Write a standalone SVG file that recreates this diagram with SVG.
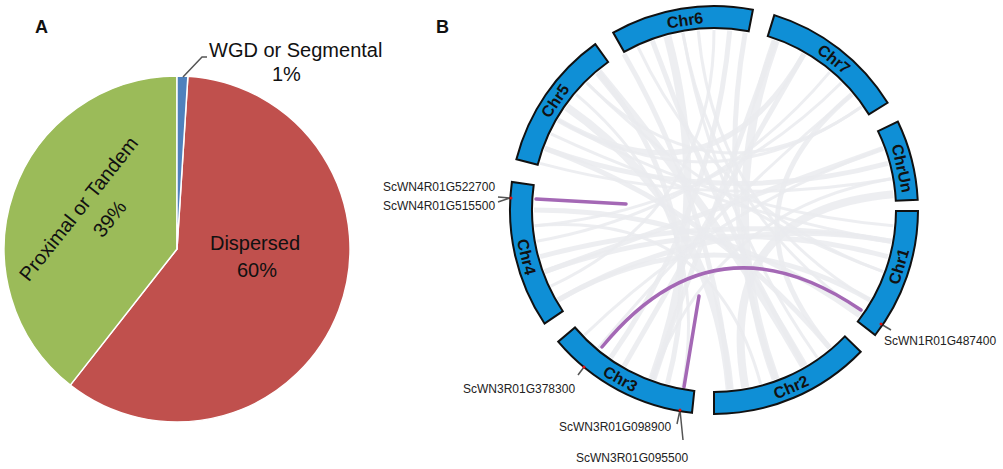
<svg xmlns="http://www.w3.org/2000/svg" width="1003" height="469" viewBox="0 0 1003 469">
<style>
.t{font-family:"Liberation Sans",Arial,sans-serif;fill:#111}
.pl{font-size:20px}
.hd{font-size:18px;font-weight:bold}
.chr{fill:#0f8fd6;stroke:#111;stroke-width:2;stroke-linejoin:miter}
.cl{font-family:"Liberation Sans",Arial,sans-serif;font-size:16px;font-weight:bold;fill:#111;text-anchor:middle}
.gl{font-family:"Liberation Sans",Arial,sans-serif;font-size:12px;fill:#222}
.gray{fill:none;stroke:#eaebef;stroke-opacity:0.85;stroke-linecap:butt}
.w1{stroke-width:3}.w2{stroke-width:5}.w3{stroke-width:8}
.pur{fill:none;stroke:#a468b5;stroke-width:3.5;stroke-linecap:round}
.ld{fill:none;stroke:#555;stroke-width:1.5}
.tick{fill:#e01010}
.slice{stroke:#fff;stroke-width:1.5;stroke-linejoin:round}
</style>
<rect width="1003" height="469" fill="#fff"/>

<g id="panelA">
  <text class="t hd" x="35" y="33">A</text>
  <g id="slice-dispersed"><path class="slice" fill="#c0504d" d="M177,249 L187.9,76.3 A173,173 0 1 1 70.3,385.1 Z"/></g>
  <g id="slice-proximal"><path class="slice" fill="#9bbb59" d="M177,249 L70.3,385.1 A173,173 0 0 1 177,76 Z"/></g>
  <g id="slice-wgd"><path class="slice" fill="#4f81bd" d="M177,249 L177,76 A173,173 0 0 1 187.9,76.3 Z"/></g>
  <polyline class="ld" points="183,77 202,57 207,57" stroke="#222"/>
  <text class="t pl" x="209" y="57">WGD or Segmental</text>
  <text class="t pl" x="272" y="81">1%</text>
  <text class="t pl" x="255" y="250" text-anchor="middle">Dispersed</text>
  <text class="t pl" x="257" y="277" text-anchor="middle">60%</text>
  <text class="t pl" text-anchor="middle" transform="translate(84,213) rotate(-51.5)">Proximal or Tandem</text>
  <text class="t pl" text-anchor="middle" transform="translate(115,223) rotate(-51.5)">39%</text>
</g>

<g id="panelB">
  <text class="t hd" x="436" y="33">B</text>
  <g id="links">
    <path class="gray w2" d="M652.4,40.9 Q714,210 804,365.9"/>
    <path class="gray w3" d="M667.4,36.1 Q714,210 652.4,379.1"/>
    <path class="gray w1" d="M698.3,30.7 Q714,210 869.9,300"/>
    <path class="gray w2" d="M729.7,30.7 Q714,210 610.8,357.5"/>
    <path class="gray w1" d="M714,30 Q714,210 550.9,286.1"/>
    <path class="gray w3" d="M775.6,40.9 Q714,210 775.6,379.1"/>
    <path class="gray w2" d="M804,54.1 Q714,210 624,365.9"/>
    <path class="gray w1" d="M829.7,72.1 Q714,210 536.7,241.2"/>
    <path class="gray w2" d="M851.9,94.3 Q714,210 829.7,347.9"/>
    <path class="gray w1" d="M861.5,106.8 Q714,210 558.1,120"/>
    <path class="gray w2" d="M883.1,148.4 Q714,210 544.9,271.6"/>
    <path class="gray w1" d="M891.3,178.8 Q714,210 652.4,379.1"/>
    <path class="gray w2" d="M887.9,163.4 Q714,210 544.9,148.4"/>
    <path class="gray w3" d="M893.3,194.3 Q714,210 745.2,387.3"/>
    <path class="gray w1" d="M893.3,225.7 Q714,210 558.1,120"/>
    <path class="gray w2" d="M891.3,241.2 Q714,210 540.1,256.6"/>
    <path class="gray w1" d="M883.1,271.6 Q714,210 586.7,82.7"/>
    <path class="gray w2" d="M869.9,300 Q714,210 558.1,300"/>
    <path class="gray w1" d="M861.5,313.2 Q714,210 682.8,32.7"/>
    <path class="gray w2" d="M829.7,347.9 Q714,210 544.9,148.4"/>
    <path class="gray w3" d="M804,365.9 Q714,210 598.3,72.1"/>
    <path class="gray w1" d="M760.6,383.9 Q714,210 534.7,225.7"/>
    <path class="gray w2" d="M729.7,389.3 Q714,210 624,54.1"/>
    <path class="gray w1" d="M682.8,387.3 Q714,210 576.1,94.3"/>
    <path class="gray w2" d="M652.4,379.1 Q714,210 775.6,40.9"/>
    <path class="gray w1" d="M598.3,347.9 Q714,210 851.9,94.3"/>
    <path class="gray w2" d="M558.1,300 Q714,210 891.3,241.2"/>
    <path class="gray w1" d="M534.7,225.7 Q714,210 841.3,82.7"/>
    <path class="gray w2" d="M534,210 Q714,210 859.6,315.8"/>
    <path class="gray w1" d="M550.9,133.9 Q714,210 891.3,241.2"/>
    <path class="gray w3" d="M566.5,106.8 Q714,210 729.7,389.3"/>
    <path class="gray w1" d="M586.7,82.7 Q714,210 861.5,106.8"/>
    <path class="gray w2" d="M598.3,72.1 Q714,210 667.4,383.9"/>
    <path class="gray w1" d="M637.9,46.9 Q714,210 883.1,271.6"/>
    <path class="gray w2" d="M558.1,120 Q714,210 804,54.1"/>
    <path class="gray w1" d="M540.1,163.4 Q714,210 891.3,178.8"/>
    <path class="gray w2" d="M544.9,271.6 Q714,210 887.9,256.6"/>
    <path class="gray w1" d="M584.5,335 Q714,210 883.1,148.4"/>
    <path class="gray w2" d="M775.6,379.1 Q714,210 745.2,32.7"/>
    <path class="gray w1" d="M817.2,357.5 Q714,210 682.8,32.7"/>
    <path class="pur" d="M536,199 L626,204"/>
    <path class="pur" d="M602,347 Q714,210 861,310"/>
    <path class="pur" d="M684,387 L699,296"/>
    <g id="leaders">
      <path class="ld" d="M498,197 L510,198 M498,202 L510,198"/>
      <path class="ld" d="M578,375 L584,367"/>
      <path class="ld" d="M677,424 L680,410 L683,440"/>
      <path class="ld" d="M891,330 L881,324"/>
    </g>
  </g>
  <g id="chr1"><path class="chr" d="M918,211.1 A204,204 0 0 1 875.2,335 L857.8,321.5 A182,182 0 0 0 896,211 Z"/><text class="cl" dy="0.36em" transform="translate(898.6,266.4) rotate(-73)">Chr1</text></g>
  <g id="chr2"><path class="chr" d="M860.7,351.7 A204,204 0 0 1 714,414 L714,392 A182,182 0 0 0 844.9,336.4 Z"/><text class="cl" dy="0.36em" transform="translate(791,387) rotate(-23.5)">Chr2</text></g>
  <g id="chr3"><path class="chr" d="M692,412.8 A204,204 0 0 1 558.2,341.7 L575,327.5 A182,182 0 0 0 694.3,390.9 Z"/><text class="cl" dy="0.36em" transform="translate(620.4,378.8) rotate(29)">Chr3</text></g>
  <g id="chr4"><path class="chr" d="M544.5,323.5 A204,204 0 0 1 511.9,182 L533.7,185 A182,182 0 0 0 562.8,311.2 Z"/><text class="cl" dy="0.36em" transform="translate(526.7,256.7) rotate(76)">Chr4</text></g>
  <g id="chr5"><path class="chr" d="M516.4,159.3 A204,204 0 0 1 595.3,44.1 L608.1,62 A182,182 0 0 0 537.7,164.7 Z"/><text class="cl" dy="0.36em" transform="translate(554.9,100.7) rotate(-55.5)">Chr5</text></g>
  <g id="chr6"><path class="chr" d="M613.2,32.6 A204,204 0 0 1 752.9,9.7 L748.7,31.3 A182,182 0 0 0 624.1,51.8 Z"/><text class="cl" dy="0.36em" transform="translate(685,20) rotate(-8.5)">Chr6</text></g>
  <g id="chr7"><path class="chr" d="M774.3,15.1 A204,204 0 0 1 887.6,102.8 L868.9,114.4 A182,182 0 0 0 767.8,36.1 Z"/><text class="cl" dy="0.36em" transform="translate(834.1,58.9) rotate(38.5)">Chr7</text></g>
  <g id="chrUn"><path class="chr" d="M897.8,121.5 A204,204 0 0 1 917.7,199.7 L895.8,200.8 A182,182 0 0 0 878,131.1 Z"/><text class="cl" dy="0.36em" transform="translate(902.4,168.2) rotate(77.5)">ChrUn</text></g>
  <g id="ticks">
    <circle class="tick" cx="511" cy="198" r="1.5"/>
    <circle class="tick" cx="584" cy="367" r="1.5"/>
    <circle class="tick" cx="680" cy="410" r="1.5"/>
    <circle class="tick" cx="881" cy="324" r="1.5"/>
  </g>
  <g id="gene-labels">
    <text class="gl" x="383" y="191">ScWN4R01G522700</text>
    <text class="gl" x="383" y="210">ScWN4R01G515500</text>
    <text class="gl" x="463" y="393">ScWN3R01G378300</text>
    <text class="gl" x="559" y="431">ScWN3R01G098900</text>
    <text class="gl" x="576" y="462">ScWN3R01G095500</text>
    <text class="gl" x="884" y="345">ScWN1R01G487400</text>
  </g>
</g>
</svg>
